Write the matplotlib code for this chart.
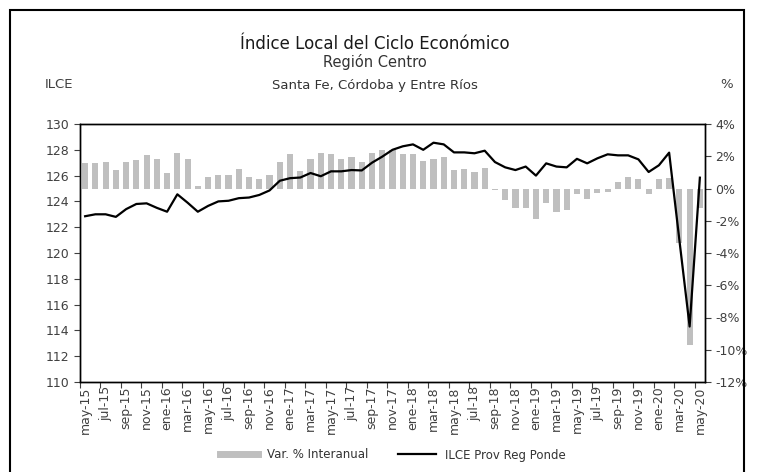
import matplotlib.pyplot as plt
from matplotlib.lines import Line2D
from matplotlib.patches import Rectangle
import numpy as np

plt.rcParams['font.family'] = ['DejaVu Sans']

meses = ['ene', 'feb', 'mar', 'abr', 'may', 'jun', 'jul', 'ago', 'sep', 'oct', 'nov', 'dic']
periodos = [f"{meses[(4 + k) % 12]}-{15 + (4 + k) // 12}" for k in range(61)]

# ILCE Prov Reg Ponde (eje izq)
ilce = [122.85, 123.0, 123.0, 122.8, 123.4, 123.8, 123.85, 123.5, 123.2, 124.55,
        123.9, 123.2, 123.65, 124.0, 124.05, 124.25, 124.3, 124.5, 124.85, 125.6,
        125.8, 125.85, 126.2, 125.95, 126.33, 126.33, 126.43, 126.4, 127.0, 127.47,
        128.0, 128.27, 128.42, 128.0, 128.55, 128.42, 127.8, 127.8, 127.73, 127.93,
        127.05, 126.64, 126.43, 126.7, 126.0, 126.95, 126.7, 126.64, 127.3, 126.95,
        127.34, 127.65, 127.57, 127.57, 127.26, 126.28, 126.8, 127.78, 121.0, 114.3,
        125.84]

# Var. % Interanual (eje der)
var_interanual = [1.56, 1.56, 1.62, 1.13, 1.62, 1.75, 2.06, 1.81, 0.94, 2.22,
                  1.81, 0.13, 0.69, 0.81, 0.81, 1.23, 0.69, 0.57, 0.81, 1.66,
                  2.12, 1.07, 1.81, 2.22, 2.12, 1.85, 1.97, 1.66, 2.22, 2.39,
                  2.39, 2.12, 2.12, 1.72, 1.85, 1.97, 1.13, 1.19, 1.0, 1.25,
                  -0.1, -0.71, -1.23, -1.23, -1.87, -0.92, -1.44, -1.33, -0.34, -0.67,
                  -0.26, -0.22, 0.42, 0.73, 0.59, -0.34, 0.59, 0.67, -3.4, -9.7,
                  -1.23]

W, H = 758, 472
fig = plt.figure(figsize=(W / 100, H / 100), dpi=100)
fig.patches.append(Rectangle((10 / W, -0.1), 734 / W, 1.1 - 10 / H, transform=fig.transFigure,
                             fill=False, edgecolor='black', linewidth=1.5))

ax = fig.add_axes([80 / W, 1 - 382 / H, 625 / W, 258 / H])
ax2 = ax.twinx()
x = np.arange(len(periodos))

ax2.bar(x, var_interanual, width=0.6, color='#bfbfbf')
ax.plot(x, ilce, color='black', linewidth=1.6)
ax.set_zorder(ax2.get_zorder() + 1)
ax.patch.set_visible(False)

ax.set_xlim(-0.5, 60.5)
ax.set_ylim(110, 130)
ax.set_yticks(np.arange(110, 131, 2))
ax2.set_ylim(-12, 4)
ax2.set_yticks(np.arange(-12, 5, 2))
ax2.set_yticklabels([f"{v}%" for v in range(-12, 5, 2)])

# marcas entre categorias, etiquetas en el centro
ax.set_xticks(np.arange(-0.5, 60, 2))
ax.set_xticklabels([])
ax.set_xticks(x[::2], minor=True)
ax.set_xticklabels(periodos[::2], minor=True, rotation=90)
ax.tick_params(axis='x', which='minor', length=0, pad=3)
ax.tick_params(axis='x', which='major', length=4, color='#404040')

for a in (ax, ax2):
    a.tick_params(axis='y', length=4, color='#404040', labelcolor='#404040', labelsize=9)
    for s in a.spines.values():
        s.set_color('black')
        s.set_linewidth(1)
ax.tick_params(axis='x', which='minor', labelcolor='#404040', labelsize=9)

fig.text(0.495, 1 - 44 / H, 'Índice Local del Ciclo Económico', ha='center', va='center',
         fontsize=12, color='#1a1a1a')
fig.text(0.495, 1 - 62 / H, 'Región Centro', ha='center', va='center',
         fontsize=10.5, color='#333333')
fig.text(0.495, 1 - 85 / H, 'Santa Fe, Córdoba y Entre Ríos', ha='center', va='center',
         fontsize=9.5, color='#333333')
fig.text(45 / W, 1 - 85 / H, 'ILCE', ha='left', va='center', fontsize=9.5, color='#404040')
fig.text(727 / W, 1 - 85 / H, '%', ha='center', va='center', fontsize=9.5, color='#404040')

handles = [Line2D([], [], color='#bfbfbf', linewidth=5),
           Line2D([], [], color='black', linewidth=1.6)]
fig.legend(handles, ['Var. % Interanual', 'ILCE Prov Reg Ponde'], loc='center',
           bbox_to_anchor=(393 / W, 1 - 455 / H), ncol=2, frameon=False, fontsize=8.5,
           handlelength=3.2, columnspacing=2.5, labelcolor='#333333')

plt.savefig('out.png', dpi=100)
